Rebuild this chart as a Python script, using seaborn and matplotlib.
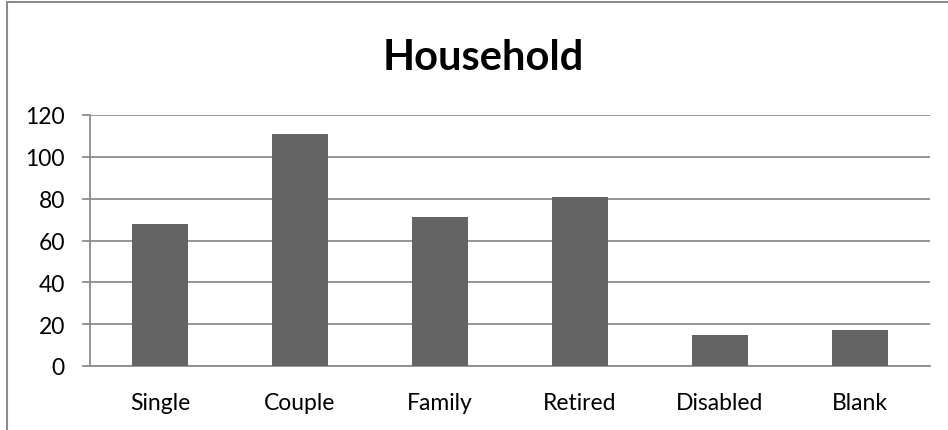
import numpy as np
import pandas as pd
import seaborn as sns
import matplotlib.pyplot as plt
from matplotlib.lines import Line2D


categories = ['Single', 'Couple', 'Family', 'Retired', 'Disabled', 'Blank']
counts = [68, 111, 71, 81, 15, 17]
yticks = [0, 20, 40, 60, 80, 100, 120]

bar_color = '#646464'
grid_color = '#8c8c8c'

sns.set_style("white")
plt.rcParams['font.family'] = ['Lato', 'DejaVu Sans']
plt.rcParams['text.color'] = 'black'
plt.rcParams['xtick.labelcolor'] = 'black'
plt.rcParams['ytick.labelcolor'] = 'black'

df = pd.DataFrame({'category': categories, 'count': counts})

fig = plt.figure(figsize=(9.48, 4.31), dpi=100)
ax = fig.add_axes([90 / 948, 64 / 431, 840 / 948, 251 / 431])

sns.barplot(data=df, x='category', y='count', color=bar_color,
            width=0.4, saturation=1, linewidth=0, ax=ax, zorder=3)

ax.set_ylim(0, 120)
ax.set_xlim(-0.5, len(categories) - 0.5)
ax.set_yticks(yticks)
ax.yaxis.grid(True, color=grid_color, lw=1.3, zorder=0)
ax.set_axisbelow(True)

# ticks sit between categories, labels centred under bars
ax.set_xticks(np.arange(len(categories)))
ax.set_xticklabels(categories)
ax.set_xticks(np.arange(len(categories) + 1) - 0.5, minor=True)
ax.tick_params(axis='x', which='major', length=0, pad=19, labelsize=16.5,
               labelcolor='black')
ax.tick_params(axis='x', which='minor', length=6, width=1.3, color=grid_color,
               direction='out')
ax.tick_params(axis='y', length=6, width=1.3, color=grid_color, labelsize=16.5,
               pad=12, left=True, labelcolor='black')

ax.set_xlabel('')
ax.set_ylabel('')

for side in ['top', 'right']:
    ax.spines[side].set_visible(False)
for side in ['left', 'bottom']:
    ax.spines[side].set_color(grid_color)
    ax.spines[side].set_linewidth(1.3)

fig.text(483 / 948, 1 - 58 / 431, 'Household', ha='center', va='center',
         fontsize=30, fontweight='bold', color='black')

# chart frame (top and left edges only are visible)
fig.add_artist(Line2D([7 / 948, 7 / 948], [0, 1 - 3 / 431], color='#8c8c8c',
                      lw=1.5, transform=fig.transFigure))
fig.add_artist(Line2D([7 / 948, 1], [1 - 3 / 431, 1 - 3 / 431], color='#8c8c8c',
                      lw=1.5, transform=fig.transFigure))

fig.savefig('out.png', dpi=100)
